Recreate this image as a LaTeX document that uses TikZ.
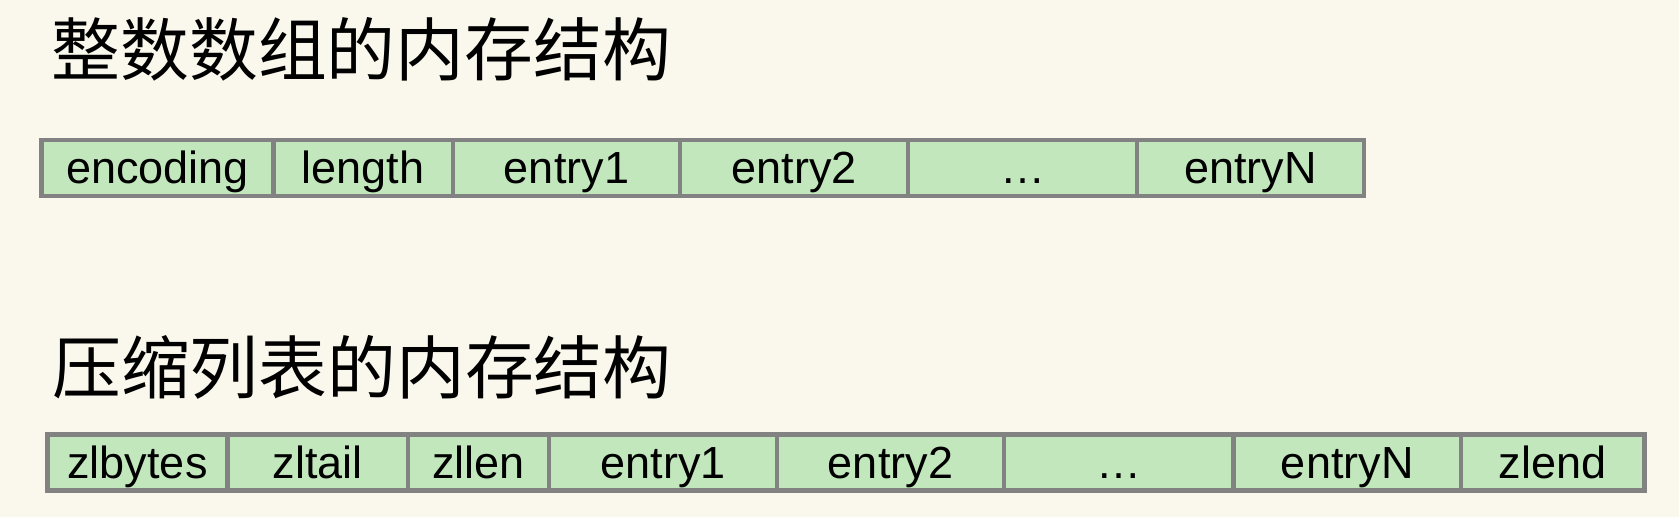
\documentclass[tikz,border=0pt]{standalone}
\usepackage{fontspec}
\setmainfont{Liberation Sans}
\newfontfamily\cjk{Noto Sans CJK SC}
\definecolor{bgcol}{RGB}{250,247,236}
\definecolor{cellfill}{RGB}{194,231,189}
\definecolor{cellline}{RGB}{130,130,130}
\begin{document}
\begin{tikzpicture}[x=1pt,y=-1pt,
  cell/.style={draw=cellline, fill=cellfill, line width=4.5pt, rectangle,
    inner sep=0pt, outer sep=0pt, minimum height=56pt,
    text height=33pt, text depth=2pt,
    font=\fontsize{45}{50}\selectfont},
  title/.style={anchor=base west, inner sep=0pt, font=\cjk\fontsize{68.8}{76}\selectfont}]
\fill[bgcol] (0,0) rectangle (1679,517);
\useasboundingbox (0,0) rectangle (1679,517);
\node[title] (t1) at (51.5,75) {整数数组的内存结构};
\node[title] (t2) at (52,393) {压缩列表的内存结构};
% row 1
\node[cell, minimum width=232pt]   (a1) at (157.5,168) {encoding};
\node[cell, minimum width=179.5pt] (a2) at (363.25,168) {length};
\node[cell, minimum width=227pt]   (a3) at (566.5,168) {entry1};
\node[cell, minimum width=228pt]   (a4) at (794,168) {entry2};
\node[cell, minimum width=229pt]   (a5) at (1022.5,168) {…};
\node[cell, minimum width=227pt]   (a6) at (1250.5,168) {entryN};
% row 2
\node[cell, minimum width=180pt]   (b1) at (137.5,462.5) {zlbytes};
\node[cell, minimum width=180.5pt] (b2) at (317.75,462.5) {zltail};
\node[cell, minimum width=141pt]   (b3) at (478.5,462.5) {zllen};
\node[cell, minimum width=228pt]   (b4) at (663,462.5) {entry1};
\node[cell, minimum width=227pt]   (b5) at (890.5,462.5) {entry2};
\node[cell, minimum width=229.5pt] (b6) at (1118.75,462.5) {…};
\node[cell, minimum width=227.5pt] (b7) at (1347.25,462.5) {entryN};
\node[cell, minimum width=183.5pt] (b8) at (1552.75,462.5) {zlend};
\end{tikzpicture}
\end{document}
